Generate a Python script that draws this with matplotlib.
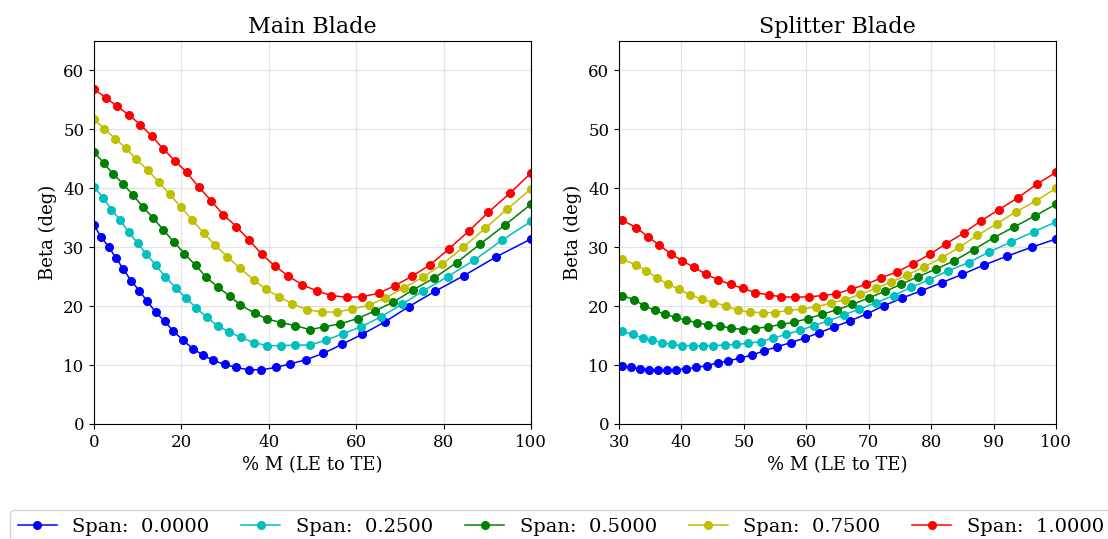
import numpy as np
from matplotlib import pyplot as plt

plt.rcParams['font.family'] = 'DejaVu Serif'

spans = ['0.0000', '0.2500', '0.5000', '0.7500', '1.0000']
colors = ['b', 'c', 'g', 'y', 'r']

# Main blade, % M and beta for each span
main_x0 = [0, 1.6, 3.4, 5.0, 6.7, 8.5, 10.4, 12.2, 14.1, 16.2, 18.1, 20.4, 22.6, 24.9, 27.3, 29.9,
           32.5, 35.4, 38.3, 41.6, 44.9, 48.5, 52.5, 56.7, 61.3, 66.5, 72.0, 78.0, 84.7, 92.1, 100]
main_y0 = [33.7, 31.8, 30.0, 28.2, 26.3, 24.3, 22.6, 20.8, 19.0, 17.4, 15.8, 14.2, 12.8, 11.7, 10.8, 10.1,
           9.6, 9.2, 9.2, 9.6, 10.2, 10.9, 12.0, 13.5, 15.2, 17.3, 19.9, 22.5, 25.2, 28.4, 31.4]
main_x1 = [0, 2.1, 4.0, 6.0, 7.9, 10.0, 12.0, 14.2, 16.3, 18.7, 21.0, 23.4, 25.8, 28.3, 30.9, 33.6,
           36.6, 39.7, 42.8, 46.0, 49.4, 53.0, 56.9, 61.1, 65.7, 70.4, 75.4, 80.9, 87.0, 93.4, 100]
main_y1 = [40.2, 38.4, 36.4, 34.6, 32.6, 30.7, 28.8, 26.9, 25.0, 23.1, 21.4, 19.7, 18.1, 16.7, 15.6, 14.7,
           13.8, 13.3, 13.3, 13.4, 13.4, 14.2, 15.3, 16.5, 18.2, 20.3, 22.6, 25.0, 27.8, 31.2, 34.4]
main_x2 = [0, 2.2, 4.3, 6.6, 8.9, 11.1, 13.5, 15.9, 18.3, 20.7, 23.3, 25.7, 28.4, 31.1, 33.5, 36.8,
           39.7, 42.9, 46.1, 49.4, 52.7, 56.4, 60.3, 64.3, 68.5, 73.1, 77.9, 83.0, 88.3, 94.1, 100]
main_y2 = [46.2, 44.3, 42.5, 40.8, 38.9, 36.9, 35.0, 32.9, 30.9, 28.9, 26.9, 24.9, 23.2, 21.7, 20.2, 18.8,
           17.8, 17.2, 16.7, 16.0, 16.5, 17.0, 17.9, 19.2, 20.7, 22.8, 24.8, 27.4, 30.5, 33.8, 37.3]
main_x3 = [0, 2.4, 4.9, 7.3, 9.7, 12.3, 14.8, 17.3, 19.8, 22.4, 25.1, 27.8, 30.5, 33.3, 36.5, 39.3,
           42.3, 45.4, 48.7, 52.1, 55.5, 59.1, 63.0, 66.7, 70.9, 75.2, 79.7, 84.5, 89.5, 94.6, 100]
main_y3 = [51.7, 50.1, 48.4, 46.8, 44.9, 43.1, 41.1, 39.0, 36.9, 34.7, 32.4, 30.3, 28.4, 26.5, 24.5, 22.9,
           21.6, 20.4, 19.4, 19.0, 19.0, 19.5, 20.2, 21.4, 23.1, 24.9, 27.1, 30.0, 33.2, 36.5, 39.9]
main_x4 = [0, 2.7, 5.3, 7.9, 10.6, 13.3, 15.8, 18.5, 21.2, 24.0, 26.8, 29.6, 32.6, 35.5, 38.4, 41.4,
           44.5, 47.7, 51.0, 54.3, 57.9, 61.3, 65.2, 68.9, 72.8, 76.9, 81.2, 85.7, 90.2, 95.2, 100]
main_y4 = [56.8, 55.4, 53.9, 52.5, 50.8, 48.8, 46.7, 44.7, 42.7, 40.2, 37.9, 35.5, 33.5, 31.2, 28.8, 26.8,
           25.1, 23.6, 22.6, 21.8, 21.5, 21.6, 22.2, 23.5, 25.1, 27.0, 29.7, 32.7, 35.9, 39.2, 42.6]

# Splitter blade
split_x0 = [30.5, 32.0, 33.4, 34.8, 36.2, 37.7, 39.2, 40.8, 42.4, 44.1, 45.8, 47.5, 49.4, 51.3, 53.2, 55.3,
            57.5, 59.8, 62.1, 64.5, 67.0, 69.7, 72.5, 75.4, 78.4, 81.7, 85.0, 88.5, 92.2, 96.1, 100]
split_y0 = [9.9, 9.6, 9.4, 9.2, 9.1, 9.1, 9.2, 9.4, 9.6, 9.9, 10.4, 10.7, 11.2, 11.7, 12.4, 13.1,
            13.8, 14.6, 15.5, 16.5, 17.5, 18.7, 20.1, 21.4, 22.6, 24.0, 25.4, 27.0, 28.5, 30.0, 31.4]
split_x1 = [30.5, 32.2, 33.8, 35.3, 36.9, 38.5, 40.1, 41.8, 43.5, 45.1, 46.9, 48.7, 50.7, 52.7, 54.7, 56.8,
            59.0, 61.2, 63.5, 66.0, 68.5, 71.2, 74.0, 76.8, 79.7, 82.7, 86.0, 89.3, 92.8, 96.4, 100]
split_y1 = [15.7, 15.2, 14.6, 14.2, 13.8, 13.5, 13.3, 13.3, 13.3, 13.3, 13.4, 13.5, 13.7, 14.0, 14.6, 15.2,
            15.9, 16.7, 17.5, 18.5, 19.5, 20.6, 21.8, 23.2, 24.5, 26.0, 27.4, 29.2, 30.9, 32.6, 34.3]
split_x2 = [30.5, 32.4, 34.0, 35.7, 37.4, 39.1, 40.8, 42.5, 44.3, 46.1, 48.0, 49.9, 51.8, 53.9, 56.0, 58.1,
            60.3, 62.5, 64.9, 67.4, 70.0, 72.6, 75.2, 77.9, 80.8, 83.7, 86.8, 90.0, 93.2, 96.6, 100]
split_y2 = [21.8, 21.1, 20.1, 19.3, 18.6, 18.1, 17.6, 17.2, 16.8, 16.6, 16.3, 16.0, 16.2, 16.5, 16.9, 17.3,
            17.9, 18.6, 19.4, 20.3, 21.4, 22.5, 23.7, 25.0, 26.3, 27.7, 29.6, 31.6, 33.4, 35.3, 37.3]
split_x3 = [30.5, 32.7, 34.4, 36.1, 37.8, 39.6, 41.4, 43.3, 45.1, 47.1, 49.0, 51.0, 53.0, 55.0, 57.1, 59.3,
            61.6, 63.9, 66.2, 68.6, 71.1, 73.6, 76.2, 78.9, 81.7, 84.5, 87.4, 90.5, 93.6, 96.8, 100]
split_y3 = [28.0, 27.0, 26.0, 24.8, 23.7, 22.9, 21.9, 21.2, 20.6, 20.1, 19.3, 19.0, 18.9, 18.9, 19.3, 19.5,
            19.9, 20.5, 21.1, 22.0, 23.0, 24.1, 25.3, 26.7, 28.2, 30.0, 32.0, 34.0, 36.0, 37.9, 40.0]
split_x4 = [30.5, 32.8, 34.6, 36.4, 38.3, 40.1, 42.0, 44.0, 45.8, 47.9, 49.9, 51.8, 54.0, 56.0, 58.2, 60.5,
            62.7, 64.8, 67.2, 69.6, 72.0, 74.5, 77.1, 79.8, 82.4, 85.2, 88.0, 90.9, 93.9, 96.9, 100]
split_y4 = [34.6, 33.3, 31.8, 30.4, 28.9, 27.7, 26.6, 25.4, 24.5, 23.7, 23.0, 22.3, 21.9, 21.6, 21.5, 21.6,
            21.8, 22.1, 22.9, 23.7, 24.8, 25.8, 27.2, 28.8, 30.6, 32.4, 34.5, 36.4, 38.4, 40.7, 42.7]

main = [(main_x0, main_y0), (main_x1, main_y1), (main_x2, main_y2), (main_x3, main_y3), (main_x4, main_y4)]
split = [(split_x0, split_y0), (split_x1, split_y1), (split_x2, split_y2), (split_x3, split_y3),
         (split_x4, split_y4)]

fig = plt.figure(figsize=(11.08, 5.39), dpi=100)
ax1 = fig.add_axes([94 / 1108, 115 / 539, 437 / 1108, 383 / 539])
ax2 = fig.add_axes([619 / 1108, 115 / 539, 437 / 1108, 383 / 539])

for ax, curves, title, xlim, xticks in [
    (ax1, main, 'Main Blade', (0, 100), np.arange(0, 101, 20)),
    (ax2, split, 'Splitter Blade', (30, 100), np.arange(30, 101, 10)),
]:
    for (x, y), c, s in zip(curves, colors, spans):
        ax.plot(x, y, '-o', color=c, lw=1.1, ms=5.5, label=f'Span:  {s}')
    ax.set_xlim(*xlim)
    ax.set_ylim(0, 65)
    ax.set_xticks(xticks)
    ax.set_yticks(np.arange(0, 61, 10))
    ax.grid(True, color='#d8d8d8', lw=0.9, alpha=0.7)
    ax.tick_params(labelsize=12)
    ax.set_title(title, fontsize=16)
    ax.set_xlabel('% M (LE to TE)', fontsize=13)
    ax.set_ylabel('Beta (deg)', fontsize=13)

handles, labels = ax1.get_legend_handles_labels()
fig.legend(handles, labels, loc='upper left', bbox_to_anchor=(10 / 1108, 1 - 510 / 539),
           ncol=5, fontsize=14, borderaxespad=0, columnspacing=1.65)

fig.savefig('out.png', dpi=100)
